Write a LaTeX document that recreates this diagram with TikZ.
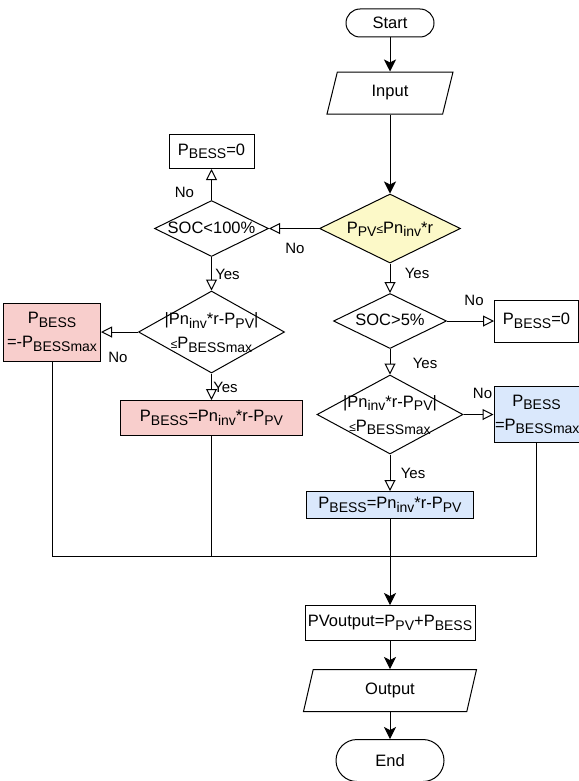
\documentclass[tikz,border=0pt]{standalone}
\usepackage{fontspec}
\setmainfont{Liberation Sans}
\usetikzlibrary{positioning,arrows.meta,shapes,shapes.geometric,calc}
\definecolor{yelfill}{HTML}{FCF9C8}
\definecolor{redfill}{HTML}{F8CECC}
\definecolor{bluefill}{HTML}{DAE8FC}
\newcommand{\subtx}[1]{\raisebox{-3.5pt}{\fontsize{14pt}{14pt}\selectfont #1}}
\newcommand{\smleq}{{\fontsize{12pt}{12pt}\selectfont ≤}}
\newcommand{\dtext}[1]{\makebox[0pt]{\begin{tabular}{@{}c@{}}#1\end{tabular}}}
\tikzstyle{termbox}=[rectangle, rounded corners=14pt, draw, line width=1pt, minimum width=88pt, minimum height=28pt, inner sep=0pt, font=\fontsize{16.5pt}{24pt}\selectfont]
\tikzstyle{iobox}=[trapezium, trapezium stretches body, draw, line width=1pt, inner sep=0pt, font=\fontsize{16.5pt}{24pt}\selectfont]
\tikzstyle{decbox}=[diamond, draw, line width=1pt, inner sep=0pt, font=\fontsize{16.5pt}{24pt}\selectfont]
\tikzstyle{probox}=[rectangle, draw, line width=1pt, align=center, inner xsep=1pt, inner ysep=0pt, font=\fontsize{16.5pt}{24pt}\selectfont]
\tikzstyle{redbox}=[probox, fill=redfill]
\tikzstyle{bluebox}=[probox, fill=bluefill]
\tikzstyle{lbl}=[inner sep=0pt, font=\fontsize{15pt}{15pt}\selectfont]
\tikzstyle{line}=[-, line width=1pt]
\tikzstyle{flow}=[line, -{Stealth[length=12pt, width=12pt, inset=3pt]}]
\tikzstyle{branch}=[line, -{Triangle[open, length=11pt, width=11pt]}]

\begin{document}
\begin{tikzpicture}[node distance=0mm]

    \useasboundingbox (0,0) rectangle (578pt,-781pt);

% main column
    \node (start) [termbox] at (390pt,-23pt) {Start};
    \node (input) [iobox, trapezium left angle=55, trapezium right angle=125, minimum width=126pt, minimum height=42pt, below=34pt of start] {Input};
    \node (dec1) [decbox, fill=yelfill, minimum width=141pt, minimum height=69pt, below=79pt of input] {\dtext{P\subtx{PV}\smleq Pn\subtx{inv}*r}};

% charging branch (left)
    \node (soc100) [decbox, minimum width=114pt, minimum height=56pt, left=50pt of dec1] {\dtext{SOC<100\%}};
    \node (zero1) [probox, text width=83pt, minimum height=34pt, above=31pt of soc100] {P\subtx{BESS}=0};
    \node (dec2) [decbox, minimum width=146pt, minimum height=82pt, below=33.5pt of soc100] {\dtext{|Pn\subtx{inv}*r-P\subtx{PV}|\\ \smleq P\subtx{BESSmax}}};
    \node (redmax) [redbox, text width=95pt, minimum height=58pt, left=37pt of dec2] {P\subtx{BESS}\\ =-P\subtx{BESSmax}};
    \node (redeq) [redbox, text width=180pt, minimum height=35pt, below=26.5pt of dec2] {P\subtx{BESS}=Pn\subtx{inv}*r-P\subtx{PV}};

% discharging branch (right)
    \node (soc5) [decbox, minimum width=113pt, minimum height=55pt, below=29.5pt of dec1] {\dtext{SOC>5\%}};
    \node (zero2) [probox, text width=82pt, minimum height=42pt, right=47pt of soc5] {P\subtx{BESS}=0};
    \node (dec3) [decbox, minimum width=146pt, minimum height=79pt, below=25.5pt of soc5] {\dtext{|Pn\subtx{inv}*r-P\subtx{PV}|\\ \smleq P\subtx{BESSmax}}};
    \node (bluemax) [bluebox, text width=83pt, minimum height=56pt, right=30pt of dec3] {P\subtx{BESS}\\ =P\subtx{BESSmax}};
    \node (blueeq) [bluebox, text width=165pt, minimum height=27pt, below=36.5pt of dec3] {P\subtx{BESS}=Pn\subtx{inv}*r-P\subtx{PV}};

% output part
    \node (pvout) [probox, text width=168pt, minimum height=35pt, below=86pt of blueeq] {PVoutput=P\subtx{PV}+P\subtx{BESS}};
    \coordinate (mrg) at ($(pvout.north)+(0,49pt)$);
    \node (output) [iobox, trapezium left angle=57, trapezium right angle=123, minimum width=173pt, minimum height=42pt, below=28pt of pvout] {Output};
    \node (end) [termbox, rounded corners=21pt, minimum width=108pt, minimum height=42pt, below=27pt of output] {End};

% Yes / No labels
    \node (no1) [lbl] at ($(dec1.west)+(-24pt,-20pt)$) {No};
    \node (yes1) [lbl] at ($(dec1.south)+(27pt,-10pt)$) {Yes};
    \node (no2) [lbl] at ($(soc100.north)+(-27pt,8pt)$) {No};
    \node (yes2) [lbl] at ($(soc100.south)+(16pt,-17pt)$) {Yes};
    \node (no3) [lbl] at ($(dec2.west)+(-20pt,-25pt)$) {No};
    \node (yes3) [lbl] at ($(dec2.south)+(14pt,-14pt)$) {Yes};
    \node (no4) [lbl] at ($(soc5.east)+(27pt,21pt)$) {No};
    \node (yes4) [lbl] at ($(soc5.south)+(35pt,-14pt)$) {Yes};
    \node (no5) [lbl] at ($(dec3.east)+(19pt,21pt)$) {No};
    \node (yes5) [lbl] at ($(dec3.south)+(23pt,-19pt)$) {Yes};

   \draw[flow] (start.south) -- (input.north);
   \draw[flow] (input.south) -- (dec1.north);
   \draw[branch] (dec1.west) -- (soc100.east);
   \draw[branch] (dec1.south) -- (soc5.north);

   \draw[branch] (soc100.north) -- (zero1.south);
   \draw[branch] (soc100.south) -- (dec2.north);
   \draw[branch] (dec2.west) -- (redmax.east);
   \draw[branch] (dec2.south) -- (redeq.north);

   \draw[branch] (soc5.east) -- (zero2.west);
   \draw[branch] (soc5.south) -- (dec3.north);
   \draw[branch] (dec3.east) -- (bluemax.west |- dec3.east);
   \draw[branch] (dec3.south) -- (blueeq.north);

   \draw[line] (redmax.south) |- (mrg);
   \draw[line] (redeq.south) -- (redeq.south |- mrg);
   \draw[line] (bluemax.south) |- (mrg);
   \draw[line] (blueeq.south) -- (mrg);
   \draw[flow] (mrg) -- (pvout.north);
   \draw[flow] (pvout.south) -- (output.north);
   \draw[flow] (output.south) -- (end.north);

\end{tikzpicture}
\end{document}
